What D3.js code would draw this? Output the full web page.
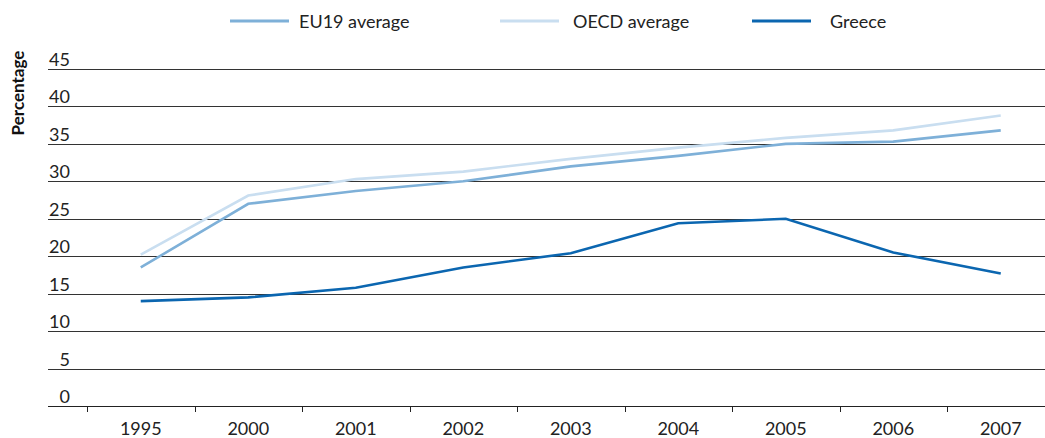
<!DOCTYPE html>
<html><head><meta charset="utf-8">
<script src="https://cdn.jsdelivr.net/npm/d3@7"></script>
<style>body{margin:0;background:#fff}svg{display:block}</style>
</head><body>
<svg id="c" width="1045" height="438"></svg>
<script>
const years = ["1995","2000","2001","2002","2003","2004","2005","2006","2007"];
const eu19 = [18.5, 27.0, 28.7, 30.0, 32.0, 33.4, 35.0, 35.3, 36.8];
const oecd = [20.2, 28.1, 30.3, 31.3, 33.0, 34.5, 35.8, 36.8, 38.8];
const greece = [14.0, 14.5, 15.8, 18.5, 20.4, 24.4, 25.0, 20.5, 17.7];
const yTicks = [0,5,10,15,20,25,30,35,40,45];
const seriesNames = ["EU19 average","OECD average","Greece"];
const colors = ["#7eb0d8","#c9def0","#0b66b0"];

const svg = d3.select("#c");
const font = "Lato, 'Open Sans', sans-serif";
const plotL = 48, plotR = 1045;
const x = d3.scaleBand().domain(years).range([87, 1054.5]);
const y = d3.scaleLinear().domain([0,45]).range([406,69]);

// gridlines + y labels
const g = svg.append("g");
yTicks.forEach(t=>{
  const yy = Math.round(y(t))+0.5;
  g.append("line").attr("x1",plotL).attr("x2",plotR).attr("y1",yy).attr("y2",yy)
    .attr("stroke", t===0 ? "#222" : "#333").attr("stroke-width",1);
  g.append("text").attr("x",70).attr("y",yy-4).attr("text-anchor","end")
    .attr("font-family",font).attr("font-size",18).attr("fill","#222").text(t);
});

// x axis ticks
const xa = svg.append("g").attr("transform","translate(0,406)")
  .call(d3.axisBottom(x).tickSize(0).tickPadding(16));
xa.select(".domain").remove();
xa.selectAll("text").attr("font-family",font).attr("font-size",18).attr("fill","#222");
years.forEach(yr=>{
  const xx = Math.round(x(yr))+0.5;
  svg.append("line").attr("x1",xx).attr("x2",xx).attr("y1",406).attr("y2",412)
    .attr("stroke","#222").attr("stroke-width",1);
});

// lines
const line = d3.line().x((d,i)=>x(years[i])+x.bandwidth()/2).y(d=>y(d));
[oecd, eu19, greece].forEach((s,k)=>{
  const ci = [1,0,2][k];
  svg.append("path").datum(s).attr("d",line).attr("fill","none")
    .attr("stroke",colors[ci]).attr("stroke-width",2.6);
});

// y title
svg.append("text").attr("transform","translate(24,93) rotate(-90)")
  .attr("text-anchor","middle").attr("font-family",font).attr("font-weight","bold")
  .attr("font-size",17).attr("fill","#111").text("Percentage");

// legend
const legX = [230, 500, 752];
const legT = [299, 573, 830];
seriesNames.forEach((n,i)=>{
  svg.append("line").attr("x1",legX[i]).attr("x2",legX[i]+59).attr("y1",21).attr("y2",21)
    .attr("stroke",colors[i]).attr("stroke-width",3);
  svg.append("text").attr("x", legT[i]).attr("y",28)
    .attr("font-family",font).attr("font-size",18).attr("fill","#222").text(n);
});
</script>
</body></html>
